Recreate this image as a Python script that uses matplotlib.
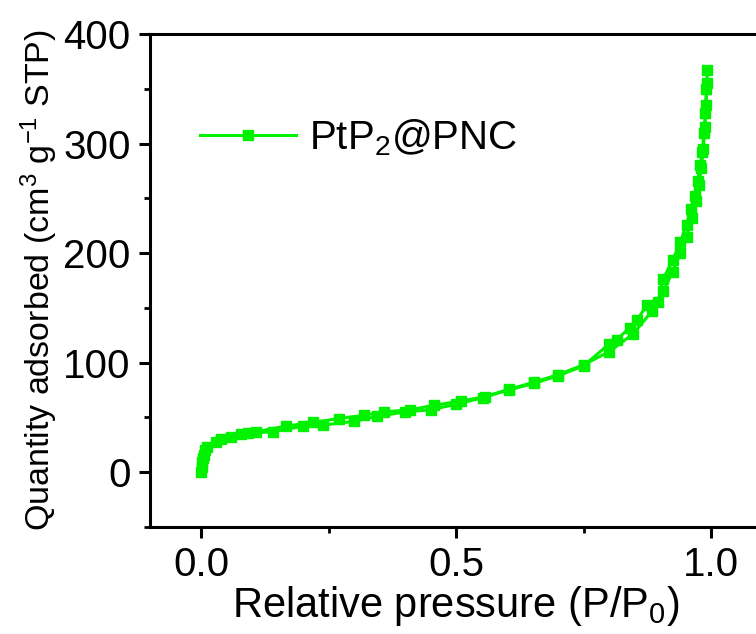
import matplotlib
matplotlib.use("Agg")
import matplotlib.pyplot as plt
from matplotlib.ticker import MultipleLocator

plt.rcParams['font.family'] = ['Liberation Sans', 'DejaVu Sans']
plt.rcParams['mathtext.fontset'] = 'custom'
plt.rcParams['mathtext.rm'] = 'Liberation Sans'
plt.rcParams['mathtext.it'] = 'Liberation Sans'
plt.rcParams['axes.unicode_minus'] = False

# N2 isotherm, adsorption branch
p_ads = [0.0005, 0.001, 0.002, 0.003, 0.005, 0.008, 0.012, 0.04, 0.078, 0.108,
         0.166, 0.22, 0.27, 0.32, 0.358, 0.41, 0.456, 0.51, 0.557, 0.603,
         0.652, 0.70, 0.75, 0.80, 0.847, 0.884, 0.906, 0.925, 0.94, 0.952,
         0.962, 0.97, 0.976, 0.981, 0.985, 0.988, 0.99, 0.992, 0.993]
v_ads = [0, 5, 9, 13, 16, 20, 23, 30, 35, 37,
         42, 45.5, 49, 52, 55, 57, 61, 65, 69, 75.6,
         82, 89, 98, 110, 126, 147, 165, 183, 200, 215,
         232, 248, 262, 278, 295, 315, 335, 355, 367]

# desorption branch
p_des = [0.991, 0.989, 0.986, 0.983, 0.979, 0.974, 0.968, 0.96, 0.952, 0.94,
         0.925, 0.906, 0.896, 0.875, 0.855, 0.841, 0.815, 0.80, 0.75, 0.70,
         0.652, 0.603, 0.552, 0.50, 0.45, 0.40, 0.346, 0.30, 0.24, 0.20,
         0.141, 0.092, 0.059, 0.03]
v_des = [350, 328, 310, 292, 280, 266, 252, 240, 226, 210,
         194, 176, 155, 153, 139, 132, 121, 117, 97, 88,
         81, 75, 68, 62, 57, 55, 51, 46.5, 43, 42,
         37, 35.5, 32, 28]

green = '#00f200'

fig = plt.figure(figsize=(7.56, 6.34), dpi=100)
ax = fig.add_axes([150 / 756, 107 / 634, 612 / 756, 493 / 634])

ax.plot(p_ads, v_ads, '-s', color=green, lw=2.2, ms=7.5, label=r'PtP$_\mathregular{2}$@PNC')
ax.plot(p_des, v_des, '-s', color=green, lw=2.2, ms=7.5)

ax.set_xlim(-0.1, 1.1)
ax.set_ylim(-50, 400)
ax.xaxis.set_major_locator(MultipleLocator(0.5))
ax.xaxis.set_minor_locator(MultipleLocator(0.25))
ax.yaxis.set_major_locator(MultipleLocator(100))
ax.yaxis.set_minor_locator(MultipleLocator(50))
ax.set_xticks([0.0, 0.5, 1.0])
ax.set_xticklabels(['0.0', '0.5', '1.0'])

for s in ax.spines.values():
    s.set_linewidth(2.2)
ax.tick_params(which='major', direction='out', length=8, width=2.2, labelsize=29, pad=6)
ax.tick_params(which='minor', direction='out', length=4, width=2)

ax.set_xlabel(r'Relative pressure (P/P$_\mathregular{0}$)', fontsize=30, labelpad=0)
ax.set_ylabel(r'Quantity adsorbed (cm$^\mathregular{3}$ g$^\mathregular{-1}$ STP)',
              fontsize=24.5, labelpad=2)

ax.legend(loc='center left', bbox_to_anchor=(0.055, 0.79), frameon=False, fontsize=29,
          handlelength=2.4, handletextpad=0.3, borderaxespad=0.0)

fig.savefig('out.png', dpi=100)
